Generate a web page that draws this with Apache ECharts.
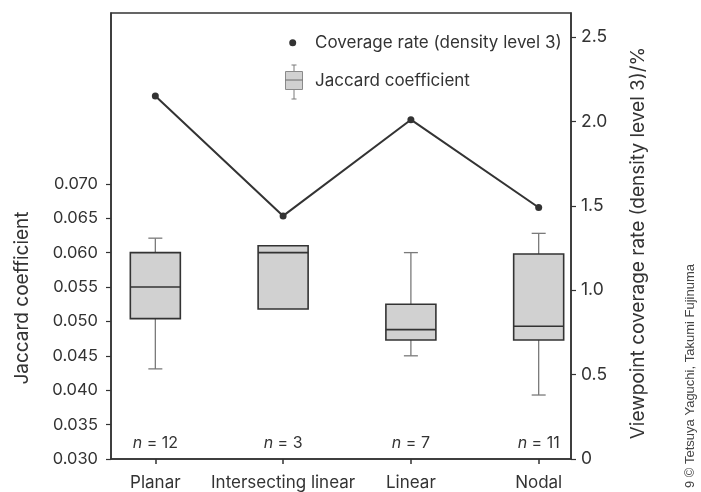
<!DOCTYPE html>
<html>
<head>
<meta charset="utf-8">
<script src="https://cdn.jsdelivr.net/npm/echarts@6/dist/echarts.min.js"></script>
<style>html,body{margin:0;padding:0;background:#fff}#c{width:701px;height:492px}</style>
</head>
<body>
<div id="c"></div>
<script>
// ---- data ----
const categories = ['Planar', 'Intersecting linear', 'Linear', 'Nodal'];
const sampleSizes = [12, 3, 7, 11];
// Jaccard coefficient box stats: [min, Q1, median, Q3, max]
const jaccardMin    = [0.0431, 0.0518, 0.0450, 0.0393];
const jaccardQ1     = [0.0504, 0.0518, 0.0473, 0.0473];
const jaccardMedian = [0.0550, 0.0600, 0.0488, 0.0493];
const jaccardQ3     = [0.0600, 0.0610, 0.0525, 0.0598];
const jaccardMax    = [0.0621, 0.0610, 0.0600, 0.0628];
// Viewpoint coverage rate (density level 3), %
const coverageRate = [2.15, 1.44, 2.01, 1.49];
const leftTicks = [0.030, 0.035, 0.040, 0.045, 0.050, 0.055, 0.060, 0.065, 0.070];
const rightTicks = [0, 0.5, 1.0, 1.5, 2.0, 2.5];

const FONT = 'Inter';
const TXT = '#333';

const positions = categories.map((c, i) => i + 1);
const boxData = positions.map((x, i) => [x, jaccardMin[i], jaccardQ1[i], jaccardMedian[i], jaccardQ3[i], jaccardMax[i], sampleSizes[i]]);
const lineData = positions.map((x, i) => [x, coverageRate[i]]);

const chart = echarts.init(document.getElementById('c'), null, {renderer: 'canvas'});

function renderBox(params, api) {
  const x = api.value(0);
  const pMin = api.coord([x, api.value(1)]);
  const pQ1 = api.coord([x, api.value(2)]);
  const pMed = api.coord([x, api.value(3)]);
  const pQ3 = api.coord([x, api.value(4)]);
  const pMax = api.coord([x, api.value(5)]);
  const pN = api.coord([x, 0.03233]);
  const cx = pMed[0];
  const hw = 25, cap = 7;
  const wStyle = {stroke: '#7a7a7a', lineWidth: 1.3, fill: null};
  const children = [];
  if (Math.abs(pMax[1] - pQ3[1]) > 0.5) {
    children.push({type: 'line', shape: {x1: cx, y1: pQ3[1], x2: cx, y2: pMax[1]}, style: wStyle});
    children.push({type: 'line', shape: {x1: cx - cap, y1: pMax[1], x2: cx + cap, y2: pMax[1]}, style: wStyle});
  }
  if (Math.abs(pMin[1] - pQ1[1]) > 0.5) {
    children.push({type: 'line', shape: {x1: cx, y1: pQ1[1], x2: cx, y2: pMin[1]}, style: wStyle});
    children.push({type: 'line', shape: {x1: cx - cap, y1: pMin[1], x2: cx + cap, y2: pMin[1]}, style: wStyle});
  }
  children.push({type: 'rect', shape: {x: cx - hw, y: pQ3[1], width: hw * 2, height: pQ1[1] - pQ3[1]},
    style: {fill: '#d1d1d1', stroke: '#333', lineWidth: 1.6}});
  children.push({type: 'line', shape: {x1: cx - hw, y1: pMed[1], x2: cx + hw, y2: pMed[1]},
    style: {stroke: '#333', lineWidth: 1.6}});
  children.push({type: 'text', x: cx, y: pN[1], style: {
    text: '{i|n} = ' + api.value(6), align: 'center', verticalAlign: 'middle',
    fontFamily: FONT, fontSize: 16, fill: TXT,
    rich: {i: {fontStyle: 'italic', fontFamily: FONT, fontSize: 16, fill: TXT}}
  }});
  return {type: 'group', children};
}

const option = {
  animation: false,
  backgroundColor: '#fff',
  textStyle: {fontFamily: FONT},
  grid: {left: 111, right: 130, top: 13, height: 446, show: true, borderColor: '#333', borderWidth: 1.5, backgroundColor: 'transparent'},
  xAxis: {
    type: 'value', min: 0.653, max: 4.253,
    axisLine: {show: true, lineStyle: {color: '#333', width: 1.5}},
    axisTick: {show: true, customValues: positions, length: 5, lineStyle: {color: '#333', width: 1.5}},
    axisLabel: {customValues: positions, formatter: v => categories[Math.round(v) - 1] || '',
      color: TXT, fontSize: 17, fontFamily: FONT, margin: 15},
    splitLine: {show: false}
  },
  yAxis: [{
    type: 'value', min: 0.030, max: 0.09483, position: 'left',
    axisLine: {show: true, lineStyle: {color: '#333', width: 1.5}},
    axisTick: {show: true, customValues: leftTicks, length: 5, lineStyle: {color: '#333', width: 1.2}},
    axisLabel: {customValues: leftTicks, formatter: v => v.toFixed(3), color: TXT, fontSize: 16.5, fontFamily: FONT, margin: 13},
    splitLine: {show: false}
  }, {
    type: 'value', min: 0, max: 2.642, position: 'right',
    axisLine: {show: true, lineStyle: {color: '#333', width: 1.5}},
    axisTick: {show: true, customValues: rightTicks, length: 5, lineStyle: {color: '#333', width: 1.2}},
    axisLabel: {customValues: rightTicks, formatter: v => v === 0 ? '0' : v.toFixed(1), color: TXT, fontSize: 17.5, fontFamily: FONT, margin: 10},
    splitLine: {show: false}
  }],
  series: [{
    name: 'Jaccard coefficient',
    type: 'custom',
    xAxisIndex: 0, yAxisIndex: 0,
    data: boxData,
    encode: {x: 0, y: [1, 2, 3, 4, 5]},
    renderItem: renderBox,
    z: 2
  }, {
    name: 'Coverage rate (density level 3)',
    type: 'line',
    xAxisIndex: 0, yAxisIndex: 1,
    data: lineData,
    symbol: 'circle', symbolSize: 7,
    lineStyle: {color: '#333', width: 2},
    itemStyle: {color: '#333'},
    z: 3
  }],
  graphic: [
    // legend
    {type: 'circle', shape: {cx: 292.7, cy: 42.7, r: 3.5}, style: {fill: '#333'}},
    {type: 'text', x: 315, y: 43, style: {text: 'Coverage rate (density level 3)', fontFamily: FONT, fontSize: 17, fill: TXT, verticalAlign: 'middle'}},
    {type: 'group', children: [
      {type: 'line', shape: {x1: 294, y1: 65, x2: 294, y2: 71.5}, style: {stroke: '#7a7a7a', lineWidth: 1}},
      {type: 'line', shape: {x1: 291.5, y1: 65, x2: 296.5, y2: 65}, style: {stroke: '#7a7a7a', lineWidth: 1}},
      {type: 'line', shape: {x1: 294, y1: 89.5, x2: 294, y2: 99}, style: {stroke: '#7a7a7a', lineWidth: 1}},
      {type: 'line', shape: {x1: 291.5, y1: 99, x2: 296.5, y2: 99}, style: {stroke: '#7a7a7a', lineWidth: 1}},
      {type: 'rect', shape: {x: 285.5, y: 71.5, width: 17, height: 18}, style: {fill: '#d1d1d1', stroke: '#8a8a8a', lineWidth: 1}},
      {type: 'line', shape: {x1: 285.5, y1: 80, x2: 302.5, y2: 80}, style: {stroke: '#6a6a6a', lineWidth: 1}}
    ]},
    {type: 'text', x: 315, y: 81, style: {text: 'Jaccard coefficient', fontFamily: FONT, fontSize: 17, fill: TXT, verticalAlign: 'middle'}},
    // axis names
    {type: 'text', x: 22, y: 298, rotation: Math.PI / 2, style: {text: 'Jaccard coefficient', fontFamily: FONT, fontSize: 19, fill: TXT, align: 'center', verticalAlign: 'middle'}},
    {type: 'text', x: 638, y: 243, rotation: Math.PI / 2, style: {text: 'Viewpoint coverage rate (density level 3)/%', fontFamily: FONT, fontSize: 19, fill: TXT, align: 'center', verticalAlign: 'middle'}},
    // credit
    {type: 'text', x: 690, y: 488, rotation: Math.PI / 2, style: {text: '9 © Tetsuya Yaguchi, Takumi Fujinuma', fontFamily: 'Liberation Sans', fontSize: 13, fill: '#444', align: 'left', verticalAlign: 'middle'}}
  ]
};
chart.setOption(option);
</script>
</body>
</html>
